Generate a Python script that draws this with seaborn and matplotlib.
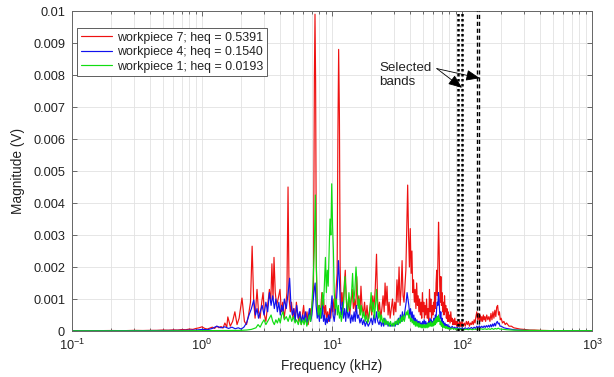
import matplotlib
matplotlib.use("Agg")
import matplotlib.pyplot as plt
from matplotlib.ticker import FixedLocator, FuncFormatter, LogLocator
import seaborn as sns
import pandas as pd

# ---------------- data (frequency in kHz, magnitude in 1e-4 V) ----------------
wp7_freq = [
    0.10, 0.15, 0.20, 0.25, 0.30, 0.35, 0.40, 0.45, 0.50, 0.55,
    0.60, 0.65, 0.70, 0.75, 0.80, 0.85, 0.90, 0.95, 1.00, 1.05,
    1.10, 1.15, 1.20, 1.25, 1.30, 1.35, 1.40, 1.45, 1.50, 1.55,
    1.58, 1.65, 1.72, 1.79, 1.86, 1.93, 2.03, 2.12, 2.20, 2.28,
    2.36, 2.43, 2.50, 2.56, 2.65, 2.72, 2.80, 2.88, 2.95, 3.02,
    3.10, 3.20, 3.30, 3.38, 3.45, 3.52, 3.58, 3.66, 3.75, 3.85,
    3.98, 4.08, 4.18, 4.28, 4.38, 4.50, 4.59, 4.68, 4.78, 4.88,
    5.00, 5.10, 5.20, 5.32, 5.45, 5.56, 5.68, 5.80, 5.92, 6.05,
    6.18, 6.30, 6.42, 6.55, 6.68, 6.80, 6.92, 7.05, 7.20, 7.32,
    7.40, 7.48, 7.58, 7.68, 7.80, 7.92, 8.05, 8.20, 8.35, 8.48,
    8.62, 8.78, 8.92, 9.08, 9.25, 9.42, 9.60, 9.78, 9.95, 10.15,
    10.35, 10.55, 10.75, 10.95, 11.10, 11.25, 11.40, 11.55, 11.75, 11.95,
    12.15, 12.40, 12.65, 12.90, 13.15, 13.40, 13.70, 14.00, 14.30, 14.60,
    14.90, 15.20, 15.50, 15.80, 16.10, 16.40, 16.70, 17.00, 17.40, 17.80,
    18.20, 18.60, 19.00, 19.40, 19.80, 20.20, 20.60, 21.00, 21.50, 22.00,
    22.40, 22.80, 23.20, 23.70, 24.20, 24.70, 25.20, 25.60, 26.00, 26.50,
    27.00, 27.50, 28.00, 28.60, 29.20, 29.80, 30.40, 31.00, 31.60, 32.20,
    32.80, 33.40, 34.00, 34.60, 35.20, 35.80, 36.40, 37.00, 37.60, 38.20,
    38.80, 39.40, 40.00, 40.60, 41.20, 41.80, 42.40, 43.00, 43.60, 44.20,
    44.80, 45.40, 46.00, 46.60, 47.20, 47.80, 48.40, 49.00, 49.60, 50.20,
    50.80, 51.40, 52.00, 52.70, 53.40, 54.10, 54.80, 55.50, 56.20, 56.90,
    57.60, 58.30, 59.00, 59.70, 60.40, 61.10, 61.80, 62.50, 63.20, 63.90,
    64.60, 65.30, 66.00, 66.70, 67.40, 68.10, 68.80, 69.50, 70.20, 71.00,
    71.80, 72.60, 73.40, 74.20, 75.00, 75.80, 76.60, 77.40, 78.20, 79.00,
    80.0, 81.0, 82.0, 83.0, 84.0, 85.0, 86.0, 87.0, 88.0, 89.0,
    90.0, 91.0, 92.0, 93.0, 94.0, 95.0, 96.0, 97.0, 98.0, 99.0,
    100, 102, 104, 106, 108, 110, 112, 114, 116, 118,
    120, 122, 124, 126, 128, 130, 132, 134, 136, 138,
    140, 142, 144, 146, 148, 150, 152, 155, 158, 161,
    164, 167, 170, 173, 176, 179, 182, 185, 188, 191,
    194, 197, 200, 205, 210, 215, 220, 230, 240, 250,
    265, 280, 300, 330, 360, 400, 450, 500, 600, 700,
    800, 1000,
]
wp7_mag = [
    0.1, 0.1, 0.15, 0.1, 0.2, 0.15, 0.2, 0.2, 0.3, 0.25,
    0.35, 0.3, 0.45, 0.4, 0.6, 0.5, 0.8, 1.0, 1.3, 0.8,
    0.6, 0.9, 1.2, 0.8, 1.5, 1.0, 1.4, 0.9, 2.5, 1.2,
    4.4, 1.5, 3.0, 6.0, 2.0, 4.0, 10.3, 3.0, 2.0, 5.0,
    9.0, 26.5, 9.0, 4.0, 13.0, 6.0, 4.0, 9.0, 12.0, 5.0,
    3.0, 8.0, 13.0, 9.0, 21.0, 10.0, 23.0, 12.0, 8.0, 10.0,
    13.0, 6.0, 9.0, 4.0, 7.0, 12.0, 45.0, 10.0, 6.0, 9.0,
    4.0, 7.0, 3.0, 9.0, 5.0, 3.0, 6.0, 2.0, 5.0, 8.0,
    3.0, 4.0, 6.0, 2.0, 4.0, 7.0, 4.0, 9.0, 12.0, 79.0,
    99.0, 78.0, 20.0, 9.0, 5.0, 8.0, 4.0, 7.0, 12.0, 6.0,
    10.0, 5.0, 8.0, 4.0, 6.0, 3.0, 7.0, 4.0, 8.0, 6.0,
    10.0, 5.0, 13.0, 18.0, 61.0, 88.0, 68.0, 20.0, 8.0, 12.0,
    7.0, 14.0, 19.0, 9.0, 6.0, 10.0, 5.0, 9.0, 13.0, 7.0,
    10.0, 6.0, 17.0, 8.0, 11.0, 5.0, 14.0, 8.0, 5.0, 9.0,
    4.0, 8.0, 3.0, 6.0, 9.0, 5.0, 11.0, 7.0, 13.0, 24.0,
    10.0, 6.0, 9.0, 4.0, 7.0, 11.0, 6.0, 15.0, 8.0, 14.0,
    5.0, 9.0, 4.0, 7.0, 10.0, 5.0, 9.0, 6.0, 16.0, 9.0,
    20.0, 8.0, 13.0, 22.0, 11.0, 9.0, 14.0, 19.0, 32.0, 45.6,
    30.0, 20.0, 32.0, 18.0, 25.0, 12.0, 16.0, 9.0, 13.0, 7.0,
    15.0, 8.0, 11.0, 6.0, 10.0, 5.0, 9.0, 4.0, 12.0, 6.0,
    9.0, 4.0, 8.0, 5.0, 10.0, 4.0, 7.0, 3.0, 13.0, 6.0,
    10.0, 4.0, 8.0, 5.0, 9.0, 6.0, 12.0, 7.0, 15.0, 19.0,
    11.0, 22.0, 34.0, 26.0, 14.0, 9.0, 17.0, 8.0, 12.0, 6.0,
    9.0, 5.0, 11.0, 6.0, 8.0, 4.0, 7.0, 3.0, 6.0, 3.0,
    5.0, 2.5, 6.0, 3.0, 4.0, 2.0, 3.5, 2.0, 4.0, 2.0,
    3.0, 1.5, 3.0, 1.5, 2.5, 1.5, 3.0, 1.5, 2.5, 1.5,
    3.0, 1.5, 2.5, 1.5, 3.0, 2.0, 3.0, 1.5, 2.5, 2.0,
    3.0, 2.0, 3.5, 2.5, 4.5, 6.0, 3.5, 5.5, 3.0, 5.0,
    3.0, 4.5, 3.0, 5.0, 3.5, 4.5, 3.0, 5.0, 3.5, 4.5,
    3.0, 5.5, 3.5, 6.0, 4.0, 6.5, 4.5, 7.5, 8.0, 5.0,
    6.0, 3.5, 4.0, 2.5, 3.0, 2.0, 2.5, 1.5, 1.5, 1.0,
    0.8, 0.6, 0.5, 0.3, 0.3, 0.2, 0.15, 0.1, 0.1, 0.1,
    0.1, 0.1,
]

wp4_freq = [
    0.10, 0.30, 0.50, 0.70, 0.90, 1.00, 1.10, 1.20, 1.30, 1.40,
    1.50, 1.60, 1.70, 1.80, 1.90, 2.00, 2.10, 2.20, 2.30, 2.40,
    2.50, 2.58, 2.65, 2.72, 2.80, 2.90, 3.00, 3.10, 3.20, 3.30,
    3.40, 3.50, 3.60, 3.70, 3.80, 3.90, 4.00, 4.10, 4.20, 4.30,
    4.45, 4.60, 4.72, 4.82, 4.95, 5.08, 5.20, 5.35, 5.50, 5.65,
    5.80, 5.95, 6.10, 6.25, 6.40, 6.55, 6.70, 6.85, 7.00, 7.15,
    7.30, 7.42, 7.55, 7.70, 7.85, 8.00, 8.15, 8.30, 8.45, 8.60,
    8.75, 8.90, 9.05, 9.20, 9.40, 9.60, 9.80, 10.00, 10.20, 10.40,
    10.60, 10.80, 11.00, 11.20, 11.40, 11.60, 11.80, 12.00, 12.25, 12.50,
    12.75, 13.00, 13.30, 13.60, 13.90, 14.20, 14.50, 14.80, 15.10, 15.40,
    15.70, 16.00, 16.40, 16.80, 17.20, 17.60, 18.00, 18.50, 19.00, 19.50,
    20.00, 20.50, 21.00, 21.50, 22.00, 22.50, 23.00, 23.50, 24.00, 24.50,
    25.00, 25.50, 26.00, 26.50, 27.00, 27.60, 28.20, 28.80, 29.40, 30.00,
    30.60, 31.20, 31.80, 32.40, 33.00, 33.60, 34.20, 34.80, 35.40, 36.00,
    36.60, 37.20, 37.80, 38.40, 39.00, 39.60, 40.20, 40.80, 41.40, 42.00,
    42.60, 43.20, 43.80, 44.40, 45.00, 45.60, 46.20, 46.80, 47.40, 48.00,
    48.60, 49.20, 49.80, 50.50, 51.20, 51.90, 52.60, 53.30, 54.00, 54.70,
    55.40, 56.10, 56.80, 57.50, 58.20, 58.90, 59.60, 60.30, 61.00, 61.70,
    62.40, 63.10, 63.80, 64.50, 65.20, 65.90, 66.60, 67.30, 68.00, 68.70,
    69.40, 70.20, 71.00, 72.00, 73.00, 74.00, 75.00, 76.00, 77.00, 78.00,
    79.00, 80.00, 82.00, 84.00, 86.00, 88.00, 90.00, 92.00, 94.00, 96.00,
    98.00, 100, 103, 106, 109, 112, 115, 118, 121, 124,
    127, 130, 133, 136, 139, 142, 145, 148, 151, 154,
    157, 160, 163, 166, 169, 172, 175, 178, 181, 184,
    187, 190, 193, 196, 200, 210, 220, 235, 250, 270,
    300, 350, 400, 500, 700, 1000,
]
wp4_mag = [
    0.05, 0.1, 0.15, 0.2, 0.3, 0.5, 0.4, 0.8, 1.5, 1.0,
    1.3, 0.8, 1.2, 0.7, 1.0, 0.6, 1.2, 2.5, 5.0, 7.0,
    9.7, 5.0, 7.0, 4.0, 6.0, 8.0, 5.0, 9.0, 6.0, 12.0,
    8.0, 11.0, 7.0, 10.0, 6.0, 9.0, 5.0, 8.0, 6.0, 10.0,
    7.0, 12.0, 16.5, 9.0, 5.0, 7.0, 3.0, 8.0, 4.0, 6.0,
    2.5, 5.0, 3.0, 6.0, 2.0, 4.0, 7.0, 3.0, 5.0, 9.0,
    13.0, 15.0, 8.0, 4.0, 6.0, 3.0, 7.0, 4.0, 8.0, 3.0,
    5.0, 2.0, 4.0, 2.5, 5.0, 3.0, 7.0, 11.0, 5.0, 3.0,
    6.0, 9.0, 14.0, 22.0, 16.0, 8.0, 5.0, 9.0, 4.0, 7.0,
    3.0, 8.0, 4.0, 6.0, 2.5, 5.0, 3.0, 6.0, 3.0, 8.0,
    4.0, 5.0, 2.5, 4.0, 2.0, 3.5, 1.5, 3.0, 1.5, 2.5,
    4.0, 2.0, 5.0, 2.5, 6.0, 3.0, 2.0, 3.5, 1.5, 3.0,
    1.5, 4.0, 2.0, 3.0, 1.5, 2.5, 1.5, 2.0, 1.5, 2.5,
    1.5, 3.0, 2.0, 4.0, 2.5, 5.0, 3.0, 6.0, 3.5, 5.0,
    7.0, 9.0, 12.0, 10.0, 8.0, 5.0, 7.0, 4.0, 6.0, 3.0,
    5.0, 2.5, 4.0, 2.0, 3.5, 2.0, 3.0, 1.5, 3.0, 1.5,
    2.5, 1.5, 3.0, 2.0, 3.5, 2.0, 3.0, 1.5, 2.5, 1.5,
    3.0, 2.0, 4.0, 2.5, 3.5, 2.0, 3.0, 2.0, 4.0, 2.5,
    5.0, 3.5, 7.0, 9.0, 8.0, 12.0, 10.0, 6.0, 4.0, 6.0,
    3.0, 4.0, 2.0, 3.0, 1.5, 2.5, 1.5, 2.0, 1.0, 2.0,
    1.0, 1.5, 0.8, 1.5, 0.8, 1.2, 0.7, 1.2, 0.6, 1.0,
    0.6, 1.0, 0.6, 1.0, 0.6, 1.0, 0.7, 1.1, 0.7, 1.2,
    0.8, 1.5, 1.0, 1.6, 1.0, 1.5, 1.0, 1.6, 1.1, 1.7,
    1.2, 1.8, 1.2, 2.0, 1.3, 2.2, 1.5, 2.4, 1.6, 2.6,
    3.0, 2.2, 2.5, 1.5, 1.5, 1.0, 0.8, 0.6, 0.4, 0.3,
    0.2, 0.15, 0.1, 0.08, 0.05, 0.05,
]

wp1_freq = [
    0.10, 0.50, 1.00, 1.50, 2.00, 2.20, 2.40, 2.60, 2.70, 2.80,
    2.90, 3.00, 3.10, 3.20, 3.30, 3.40, 3.50, 3.60, 3.70, 3.80,
    3.90, 4.00, 4.10, 4.20, 4.30, 4.45, 4.60, 4.75, 4.90, 5.05,
    5.20, 5.35, 5.50, 5.65, 5.80, 5.95, 6.10, 6.25, 6.40, 6.55,
    6.70, 6.85, 7.00, 7.15, 7.30, 7.45, 7.58, 7.70, 7.85, 8.00,
    8.15, 8.30, 8.45, 8.60, 8.75, 8.90, 9.05, 9.20, 9.35, 9.50,
    9.65, 9.80, 9.95, 10.10, 10.25, 10.40, 10.60, 10.80, 11.00, 11.20,
    11.40, 11.60, 11.80, 12.00, 12.30, 12.60, 12.90, 13.20, 13.50, 13.80,
    14.10, 14.40, 14.70, 15.00, 15.30, 15.60, 15.90, 16.20, 16.50, 16.80,
    17.20, 17.60, 18.00, 18.40, 18.80, 19.20, 19.60, 20.00, 20.40, 20.80,
    21.20, 21.60, 22.00, 22.40, 22.80, 23.20, 23.60, 24.00, 24.50, 25.00,
    25.50, 26.00, 26.50, 27.00, 27.60, 28.20, 28.80, 29.40, 30.00, 30.60,
    31.20, 31.80, 32.40, 33.00, 33.60, 34.20, 34.80, 35.40, 36.00, 36.60,
    37.20, 37.80, 38.40, 39.00, 39.60, 40.20, 40.80, 41.40, 42.00, 42.60,
    43.20, 43.80, 44.40, 45.00, 45.60, 46.20, 46.80, 47.40, 48.00, 48.60,
    49.20, 49.80, 50.50, 51.20, 51.90, 52.60, 53.30, 54.00, 54.70, 55.40,
    56.10, 56.80, 57.50, 58.20, 58.90, 59.60, 60.30, 61.00, 61.70, 62.40,
    63.10, 63.80, 64.50, 65.20, 65.90, 66.60, 67.30, 68.00, 68.70, 69.40,
    70.20, 71.00, 72.00, 73.00, 74.00, 75.00, 76.00, 77.00, 78.00, 79.00,
    80.00, 82.00, 84.00, 86.00, 88.00, 90.00, 92.00, 94.00, 96.00, 98.00,
    100, 104, 108, 112, 116, 120, 124, 128, 132, 136,
    140, 145, 150, 155, 160, 165, 170, 175, 180, 185,
    190, 195, 200, 210, 220, 240, 260, 300, 400, 500,
    700, 1000,
]
wp1_mag = [
    0.05, 0.05, 0.1, 0.15, 0.2, 0.3, 0.5, 1.0, 2.0, 1.2,
    2.5, 3.5, 2.0, 3.0, 4.0, 5.0, 3.0, 2.0, 3.5, 2.5,
    4.0, 2.5, 5.0, 6.0, 3.5, 4.5, 3.0, 5.0, 3.0, 4.5,
    2.5, 3.5, 2.0, 4.0, 2.0, 3.5, 2.0, 4.0, 1.5, 3.0,
    5.0, 3.0, 8.0, 15.0, 25.0, 42.5, 20.0, 9.0, 5.0, 8.0,
    4.0, 7.0, 12.0, 8.0, 15.0, 23.0, 12.0, 19.0, 14.0, 25.0,
    35.0, 30.0, 46.0, 33.0, 25.0, 12.0, 7.0, 10.0, 5.0, 8.0,
    4.0, 6.0, 3.0, 5.0, 9.0, 17.0, 10.0, 6.0, 12.0, 7.0,
    11.0, 18.0, 9.0, 13.0, 20.0, 14.0, 7.0, 10.0, 5.0, 8.0,
    4.0, 6.0, 3.0, 5.0, 2.5, 4.0, 7.0, 12.0, 6.0, 9.0,
    4.0, 8.0, 13.0, 7.0, 4.0, 6.0, 3.0, 5.0, 2.5, 4.0,
    2.0, 3.5, 2.0, 3.0, 1.5, 3.0, 1.5, 2.5, 1.5, 3.0,
    2.0, 3.5, 2.0, 4.0, 2.5, 4.5, 3.0, 5.0, 3.0, 4.5,
    6.0, 5.0, 6.5, 4.0, 5.0, 3.0, 4.0, 2.5, 3.5, 2.0,
    3.0, 1.5, 3.0, 1.5, 2.5, 1.2, 2.5, 1.2, 2.0, 1.0,
    2.0, 1.0, 2.0, 1.0, 2.0, 1.0, 2.0, 1.0, 2.5, 1.2,
    2.5, 1.5, 3.0, 1.5, 2.5, 1.5, 3.0, 1.8, 3.5, 2.0,
    4.0, 2.5, 4.5, 3.0, 5.0, 3.0, 4.0, 2.0, 3.0, 1.5,
    2.5, 1.0, 2.0, 1.0, 1.5, 0.8, 1.5, 0.7, 1.2, 0.6,
    1.0, 0.5, 1.0, 0.5, 0.8, 0.4, 0.8, 0.4, 0.7, 0.4,
    0.6, 0.4, 0.6, 0.4, 0.6, 0.4, 0.6, 0.5, 0.7, 0.5,
    0.7, 0.5, 0.7, 0.5, 0.7, 0.5, 0.8, 0.5, 0.8, 0.6,
    0.9, 0.6, 0.6, 0.5, 0.4, 0.3, 0.25, 0.2, 0.15, 0.12,
    0.1, 0.1,
]

series_labels = [
    "workpiece 7; heq = 0.5391",
    "workpiece 4; heq = 0.1540",
    "workpiece 1; heq = 0.0193",
]
series_colors = ["#ee1111", "#1111ee", "#11dd11"]

band_dotted = [93.0, 100.0]     # kHz
band_dashed = [129.5, 134.0]    # kHz

x_ticks = [0.1, 1, 10, 100, 1000]
y_ticks = [0, 0.001, 0.002, 0.003, 0.004, 0.005, 0.006, 0.007, 0.008, 0.009, 0.01]

assert len(wp7_freq) == len(wp7_mag)
assert len(wp4_freq) == len(wp4_mag)
assert len(wp1_freq) == len(wp1_mag)

# ---------------- style ----------------
sns.set_theme(style="white")
plt.rcParams["font.family"] = ["Liberation Sans", "DejaVu Sans"]
plt.rcParams["mathtext.fontset"] = "custom"
plt.rcParams["mathtext.rm"] = "Liberation Sans"
plt.rcParams["mathtext.it"] = "Liberation Sans:italic"
plt.rcParams["mathtext.bf"] = "Liberation Sans:bold"

fig = plt.figure(figsize=(6.14, 3.77), dpi=100)
ax = fig.add_axes([72 / 614, 1 - 331 / 377, 520 / 614, 320 / 377])

frames = []
for fr, mg, lab in [(wp7_freq, wp7_mag, series_labels[0]),
                    (wp4_freq, wp4_mag, series_labels[1]),
                    (wp1_freq, wp1_mag, series_labels[2])]:
    frames.append(pd.DataFrame({"freq": fr, "mag": [m * 1e-4 for m in mg], "series": lab}))

for df, col in zip(frames, series_colors):
    sns.lineplot(data=df, x="freq", y="mag", ax=ax, color=col, linewidth=0.85,
                 estimator=None, sort=False, label=df["series"].iloc[0])

for f in band_dotted:
    ax.axvline(f, color="black", linestyle=(0, (1, 1)), linewidth=1.8, zorder=5)
for f in band_dashed:
    ax.axvline(f, color="black", linestyle=(0, (3, 2)), linewidth=1.0, zorder=5)

ax.set_xscale("log")
ax.set_xlim(0.1, 1000)
ax.set_ylim(0, 0.01)
ax.xaxis.set_major_locator(FixedLocator(x_ticks))
ax.xaxis.set_minor_locator(LogLocator(base=10, subs=range(2, 10), numticks=20))
ax.yaxis.set_major_locator(FixedLocator(y_ticks))
ax.yaxis.set_major_formatter(FuncFormatter(lambda v, p: "%g" % round(v, 4)))

ax.grid(True, which="major", color="#e2e2e2", linewidth=0.6)
ax.grid(True, which="minor", axis="x", color="#e2e2e2", linewidth=0.6)
ax.set_axisbelow(True)

ax.tick_params(which="both", direction="in", top=True, right=True, bottom=True, left=True,
               color="#555555", labelcolor="#222222", labelsize=9.2, width=0.6)
ax.tick_params(which="major", length=3.5, pad=5)
ax.tick_params(which="minor", length=2)
for s in ax.spines.values():
    s.set_color("#666666")
    s.set_linewidth(0.7)

ax.set_xlabel("Frequency (kHz)", fontsize=9.8, color="#222222", labelpad=4)
ax.set_ylabel("Magnitude (V)", fontsize=9.8, color="#222222", labelpad=6)

leg = ax.legend(loc="upper left", bbox_to_anchor=(0.0096, 0.947), borderaxespad=0,
                fontsize=8.9, handlelength=2.5, handletextpad=0.4, labelspacing=0.2,
                borderpad=0.3, frameon=True, fancybox=False, framealpha=1,
                edgecolor="#444444")
leg.get_frame().set_linewidth(0.6)
for t in leg.get_texts():
    t.set_color("#222222")

ax.text(23.0, 0.0084, "Selected\nbands", fontsize=9.6, ha="left", va="top",
        color="#222222", linespacing=1.15)
arrow_kw = dict(arrowstyle="-|>,head_length=0.7,head_width=0.28", color="black",
                lw=0.6, shrinkA=0, shrinkB=0)
ax.annotate("", xy=(100.0, 0.0076), xytext=(64.0, 0.0082), arrowprops=arrow_kw)
ax.annotate("", xy=(137.0, 0.0079), xytext=(64.0, 0.0082), arrowprops=arrow_kw)

fig.savefig("out.png", dpi=100)
